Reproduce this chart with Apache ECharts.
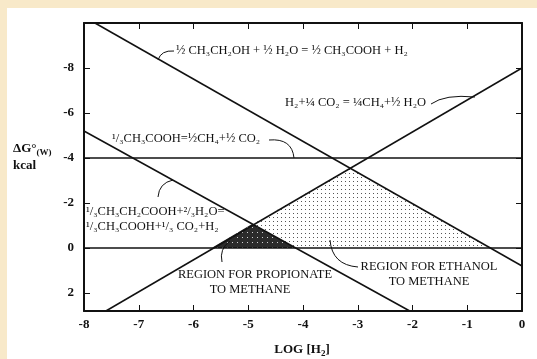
<!DOCTYPE html>
<html>
<head>
<meta charset="utf-8">
<script src="https://cdn.jsdelivr.net/npm/echarts@6/dist/echarts.min.js"></script>
<style>
html,body{margin:0;padding:0;}
#wrap{position:relative;width:537px;height:359px;background:#f8e9c9;overflow:hidden;}
#paper{position:absolute;left:7px;top:8px;width:530px;height:351px;background:#ffffff;}
#chart{position:absolute;left:0;top:0;width:537px;height:359px;}
</style>
</head>
<body>
<div id="wrap"><div id="paper"></div><div id="chart"></div></div>
<script>
// ---- data ----
const xTickValues = [-8, -7, -6, -5, -4, -3, -2, -1, 0];
const yTickValues = [-8, -6, -4, -2, 0, 2];
const ethanolLine = [[-7.8, -10], [0, 0.8]];
const hydrogenLine = [[-7.6, 2.8], [0, -8]];
const acetateLine = [[-8, -4], [0, -4]];
const propionateLine = [[-8, -5.2], [-2.05, 2.8]];
const zeroLine = [[-8, 0], [0, 0]];
const ethanolRegion = [[-5.67, 0], [-3.15, -3.56], [-0.58, 0]];
const propionateRegion = [[-5.67, 0], [-4.93, -1.07], [-4.13, 0]];

function makePattern(size, bg, dot, dx, dy) {
  const c = document.createElement('canvas');
  c.width = size; c.height = size;
  const g = c.getContext('2d');
  if (bg) { g.fillStyle = bg; g.fillRect(0, 0, size, size); }
  g.fillStyle = dot;
  g.fillRect(dx, dy, 1, 1);
  return c;
}
const lightPat = makePattern(4, null, '#555', 1, 1);
const darkPat = makePattern(5, '#2b2b2b', '#d0d0d0', 2, 2);

const chart = echarts.init(document.getElementById('chart'), null, {renderer: 'canvas'});
const serif = '"Liberation Serif", "DejaVu Serif", serif';
const ink = '#111';

function lineSeries(data) {
  return {type: 'line', data: data, symbol: 'none', silent: true, z: 5,
    lineStyle: {color: ink, width: 1.5}, clip: true, animation: false};
}
function regionSeries(data, pat, z) {
  return {type: 'line', data: data, symbol: 'none', silent: true, z: z,
    lineStyle: {width: 0, color: 'transparent'},
    areaStyle: {origin: 0, opacity: 1, color: {image: pat, repeat: 'repeat'}},
    clip: true, animation: false};
}
const common = {fontFamily: serif, fill: ink};
function txt(x, y, text, size, align, weight) {
  return {type: 'text', z: 10, silent: true,
    style: Object.assign({}, common, {x: x, y: y, text: text, fontSize: size,
      align: align || 'left', verticalAlign: 'middle', fontWeight: weight || 'normal'})};
}
function curve(x1, y1, cx, cy, x2, y2) {
  return {type: 'bezierCurve', z: 10, silent: true,
    shape: {x1: x1, y1: y1, cpx1: cx, cpy1: cy, x2: x2, y2: y2},
    style: {stroke: ink, lineWidth: 1, fill: null}};
}

const axisLabelStyle = {fontFamily: serif, fontWeight: 'bold', fontSize: 13, color: ink};
const option = {
  animation: false,
  grid: {left: 84, right: 15, top: 23, bottom: 48, show: false},
  xAxis: [{
    type: 'value', min: xTickValues[0], max: xTickValues[xTickValues.length - 1], interval: 1,
    position: 'bottom',
    axisLine: {show: true, onZero: false, lineStyle: {color: ink, width: 2}},
    axisTick: {show: true, inside: true, length: 6, lineStyle: {color: ink, width: 1}},
    axisLabel: Object.assign({margin: 7}, axisLabelStyle),
    splitLine: {show: false}
  }, {
    type: 'value', min: xTickValues[0], max: xTickValues[xTickValues.length - 1], interval: 1,
    position: 'top',
    axisLine: {show: true, onZero: false, lineStyle: {color: ink, width: 2}},
    axisTick: {show: true, inside: true, length: 6, lineStyle: {color: ink, width: 1}},
    axisLabel: {show: false}, splitLine: {show: false}
  }],
  yAxis: [{
    type: 'value', inverse: true, min: -10, max: 2.8, interval: 2,
    position: 'left',
    axisLine: {show: true, onZero: false, lineStyle: {color: ink, width: 2}},
    axisTick: {show: true, inside: true, length: 6, lineStyle: {color: ink, width: 1}},
    axisLabel: Object.assign({margin: 10, showMinLabel: false, showMaxLabel: false,
      formatter: v => (yTickValues.indexOf(v) >= 0 ? String(v) : '')}, axisLabelStyle),
    splitLine: {show: false}
  }, {
    type: 'value', inverse: true, min: -10, max: 2.8, interval: 2,
    position: 'right',
    axisLine: {show: true, onZero: false, lineStyle: {color: ink, width: 2}},
    axisTick: {show: true, inside: true, length: 6, lineStyle: {color: ink, width: 1}},
    axisLabel: {show: false}, splitLine: {show: false}
  }],
  series: [
    regionSeries(ethanolRegion, lightPat, 2),
    regionSeries(propionateRegion, darkPat, 3),
    lineSeries(ethanolLine),
    lineSeries(hydrogenLine),
    lineSeries(acetateLine),
    lineSeries(propionateLine),
    lineSeries(zeroLine)
  ],
  graphic: [
    // y-axis title
    {type: 'text', z: 10, silent: true, style: {x: 13, y: 149, verticalAlign: 'middle',
      text: '{a|ΔG°}{s|(W)}', rich: {
        a: {fontFamily: serif, fontWeight: 'bold', fontSize: 13, lineHeight: 16, fill: ink},
        s: {fontFamily: serif, fontWeight: 'bold', fontSize: 9, lineHeight: 9, verticalAlign: 'bottom', fill: ink}}}},
    txt(13, 166, 'kcal', 13, 'left', 'bold'),
    // x-axis title
    {type: 'text', z: 10, silent: true, style: {x: 302, y: 350, align: 'center', verticalAlign: 'middle',
      text: '{a|LOG [H}{s|2}{a|]}', rich: {
        a: {fontFamily: serif, fontWeight: 'bold', fontSize: 13, lineHeight: 16, fill: ink},
        s: {fontFamily: serif, fontWeight: 'bold', fontSize: 9, lineHeight: 9, verticalAlign: 'bottom', fill: ink}}}},
    // annotations
    txt(176, 51, '½ CH₃CH₂OH + ½ H₂O = ½ CH₃COOH + H₂', 12.5),
    curve(158, 60, 161, 50, 174, 51),
    txt(285, 103, 'H₂+¼ CO₂ = ¼CH₄+½ H₂O', 12.5),
    curve(431, 104, 445, 94, 475, 97),
    txt(112, 139, '¹/₃CH₃COOH=½CH₄+½ CO₂', 12.5),
    curve(269, 140, 292, 138, 294, 158),
    txt(86, 212, '¹/₃CH₃CH₂COOH+²/₃H₂O=', 12.5),
    txt(86, 227, '¹/₃CH₃COOH+¹/₃ CO₂+H₂', 12.5),
    curve(158, 197, 159, 183, 173, 180),
    txt(255, 275, 'REGION FOR PROPIONATE', 12.5, 'center'),
    txt(250, 290, 'TO METHANE', 12.5, 'center'),
    curve(222, 262, 219, 249, 230, 241),
    txt(429, 267, 'REGION FOR ETHANOL', 12.5, 'center'),
    txt(429, 282, 'TO METHANE', 12.5, 'center'),
    curve(358, 267, 332, 265, 330, 240)
  ]
};
chart.setOption(option);
</script>
</body>
</html>
